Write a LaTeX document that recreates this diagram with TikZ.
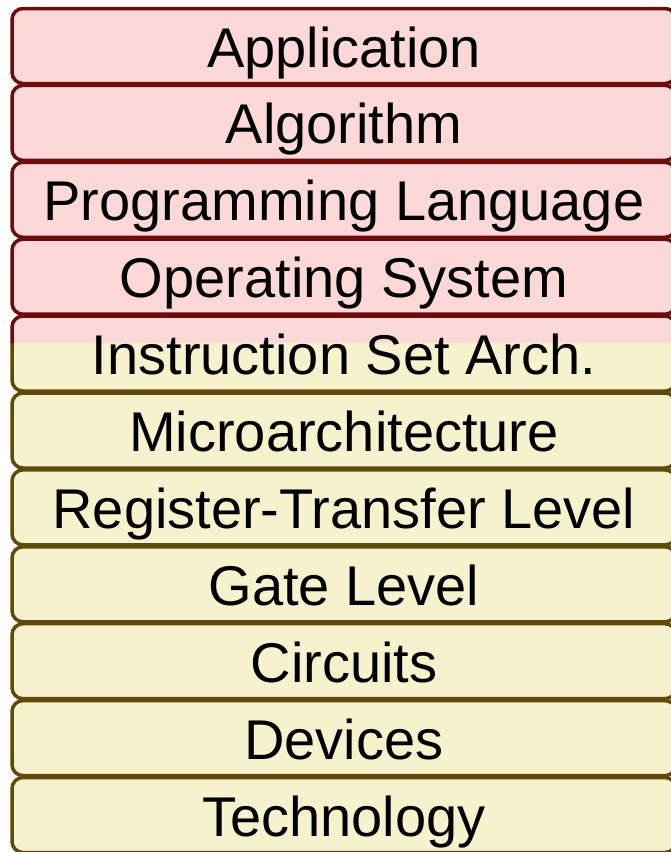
\documentclass[tikz,border=0pt]{standalone}
\usepackage{fontspec}
\setmainfont{Liberation Sans}
\definecolor{rfill}{RGB}{253,216,216}
\definecolor{rline}{RGB}{110,11,11}
\definecolor{yfill}{RGB}{247,242,206}
\definecolor{yline}{RGB}{95,74,10}
\pgfdeclarelayer{background}
\pgfsetlayers{background,main}
\tikzset{
  layer/.style={rounded corners=11pt, line width=3.5pt, minimum width=664pt, minimum height=75pt,
    outer sep=0pt, inner sep=0pt, text height=52pt, text depth=10pt,
    font=\fontsize{56}{60}\selectfont},
  rbox/.style={layer, draw=rline, fill=rfill},
  ybox/.style={layer, draw=yline, fill=yfill},
  plainbox/.style={layer}
}
\begin{document}
\begin{tikzpicture}[x=1pt,y=-1pt]
\useasboundingbox (0,0) rectangle (671,852);
\clip (0,0) rectangle (671,852);
\def\pitch{76.9}
\node[rbox] (b1) at (344,{8.5+37.5+0*\pitch}) {Application};
\node[rbox] (b2) at (344,{8.5+37.5+1*\pitch}) {Algorithm};
\node[rbox] (b3) at (344,{8.5+37.5+2*\pitch}) {Programming Language};
\node[rbox] (b4) at (344,{8.5+37.5+3*\pitch}) {Operating System};
\node[plainbox] (b5) at (344,{8.5+37.5+4*\pitch}) {Instruction Set Arch.};
\node[ybox] (b6) at (344,{8.5+37.5+5*\pitch}) {Microarchitecture};
\node[ybox] (b7) at (344,{8.5+37.5+6*\pitch}) {Register-Transfer Level};
\node[ybox] (b8) at (344,{8.5+37.5+7*\pitch}) {Gate Level};
\node[ybox] (b9) at (344,{8.5+37.5+8*\pitch}) {Circuits};
\node[ybox] (b10) at (344,{8.5+37.5+9*\pitch}) {Devices};
\node[ybox] (b11) at (344,{8.5+37.5+10*\pitch}) {Technology};
\begin{pgfonlayer}{background}
  \begin{scope}
    \clip (0,342.5) rectangle (671,852);
    \draw[draw=yline, fill=yfill, line width=3.5pt, rounded corners=11pt] (b5.north west) rectangle (b5.south east);
  \end{scope}
  \begin{scope}
    \clip (0,0) rectangle (671,342.5);
    \draw[draw=rline, fill=rfill, line width=3.5pt, rounded corners=11pt] (b5.north west) rectangle (b5.south east);
  \end{scope}
\end{pgfonlayer}
\end{tikzpicture}
\end{document}
